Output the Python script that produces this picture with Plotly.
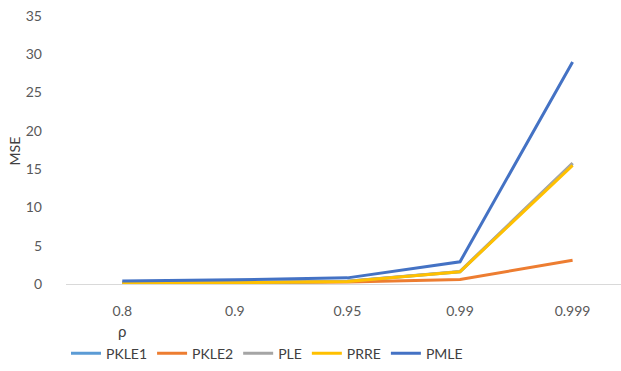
import plotly.graph_objects as go

# correlation levels (category axis)
rho_labels = ["0.8", "0.9", "0.95", "0.99", "0.999"]

# MSE of each estimator at every correlation level
pkle1 = [0.12, 0.17, 0.35, 1.6, 15.7]
pkle2 = [0.10, 0.14, 0.25, 0.6, 3.1]
ple = [0.12, 0.17, 0.36, 1.65, 15.8]
prre = [0.11, 0.16, 0.34, 1.6, 15.5]
pmle = [0.40, 0.55, 0.80, 2.9, 29.0]

series = [
    ("PKLE1", pkle1, "#5B9BD5"),
    ("PKLE2", pkle2, "#ED7D31"),
    ("PLE", ple, "#A5A5A5"),
    ("PRRE", prre, "#FFC000"),
    ("PMLE", pmle, "#4472C4"),
]

font_family = "Lato, Open Sans, sans-serif"
fig = go.Figure()
pos = list(range(len(rho_labels)))
for name, vals, color in series:
    fig.add_trace(go.Scatter(
        x=pos, y=vals, name=name, mode="lines",
        line=dict(color=color, width=3),
    ))

fig.update_layout(
    width=621, height=371,
    margin=dict(l=66, r=0, t=16, b=87),
    paper_bgcolor="white", plot_bgcolor="white",
    font=dict(family=font_family, size=14, color="#595959"),
    showlegend=True,
    legend=dict(
        orientation="h", x=0.0, xanchor="left", y=-0.26, yanchor="middle",
        font=dict(size=14, color="#404040"), itemwidth=30,
    ),
    xaxis=dict(
        range=[-0.5, 4.43], tickvals=pos, ticktext=rho_labels,
        showgrid=False, zeroline=False, showline=False, ticks="",
        ticklabelstandoff=17,
    ),
    yaxis=dict(
        range=[0, 35], tickvals=[0, 5, 10, 15, 20, 25, 30, 35],
        showgrid=False, zeroline=True, zerolinecolor="#D9D9D9", zerolinewidth=1,
        showline=False, ticks="", ticklabelstandoff=23,
    ),
    annotations=[
        dict(
            text="MSE", x=-0.093, xref="paper", y=0.496, yref="paper",
            xanchor="center", yanchor="middle",
            textangle=-90, showarrow=False,
            font=dict(size=14, color="#404040"),
        ),
        dict(
            text="ρ", x=0, xref="x", y=-0.135, yref="paper", yanchor="top",
            showarrow=False, font=dict(size=15, color="#404040"),
        ),
    ],
)

fig.write_html("out.html")
